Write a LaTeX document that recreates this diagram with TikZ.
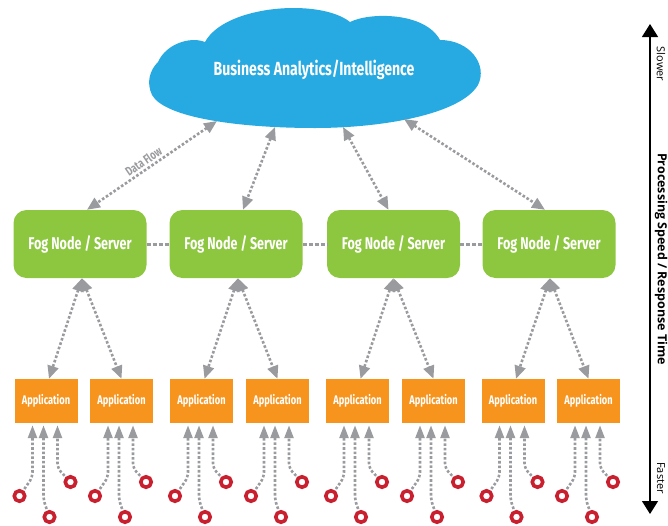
\documentclass[tikz,border=0pt]{standalone}
\usepackage{fontspec}
\setmainfont{Open Sans}
\newfontfamily\condfont[FakeStretch=0.74]{Fira Sans}
\usetikzlibrary{arrows.meta,calc}
\definecolor{cloudblue}{HTML}{27A9E1}
\definecolor{foggreen}{HTML}{8DC63F}
\definecolor{apporange}{HTML}{F7941D}
\definecolor{flowgrey}{HTML}{9A9B9F}
\definecolor{sensred}{HTML}{C8202F}
\begin{document}
\begin{tikzpicture}[x=1pt,y=-1pt,
  fogbox/.style={fill=foggreen, rounded corners=13pt, minimum width=133pt, minimum height=68pt, text=white, font=\condfont\bfseries\fontsize{17}{17}\selectfont, inner sep=0pt},
  appbox/.style={fill=apporange, minimum width=63pt, minimum height=44pt, text=white, font=\condfont\bfseries\fontsize{12.5}{12.5}\selectfont, inner sep=0pt},
  sensor/.style={circle, draw=sensred, line width=3.6pt, minimum size=10.5pt, inner sep=0pt},
  flow/.style={draw=flowgrey, line width=2.6pt, dash pattern=on 2.6pt off 2pt},
  biflow/.style={flow, {Triangle[length=13pt,width=11pt]}-{Triangle[length=13pt,width=11pt]}},
  sflow/.style={flow, rounded corners=5pt, shorten <=1.5pt, -{Triangle[length=13pt,width=9pt]}},
  fogdash/.style={draw=flowgrey, line width=3pt, dash pattern=on 4pt off 2pt},
  dflow/.style={sloped, above=1pt, pos=0.53, text=flowgrey, font=\condfont\bfseries\fontsize{12.5}{12.5}\selectfont, inner sep=1pt},
  axislabel/.style={rotate=-90, font=\fontsize{11}{11}\selectfont, inner sep=0pt}
]
\useasboundingbox (0,0) rectangle (668,525);
% cloud
\fill[cloudblue] (158,62)
  .. controls (166,44) and (190,36) .. (205,42)
  .. controls (225,5) and (320,-2) .. (350,22)
  .. controls (370,12) and (425,12) .. (440,40)
  .. controls (470,40) and (488,65) .. (478,85)
  .. controls (460,115) and (380,128) .. (315,128)
  .. controls (240,128) and (165,118) .. (152,95)
  .. controls (146,82) and (150,70) .. (158,62) -- cycle;
\node[text=white, font=\condfont\bfseries\fontsize{19}{19}\selectfont] (cloud) at (314,70) {Business Analytics/Intelligence};
\coordinate (cb1) at (217,121);
\coordinate (cb2) at (275,127);
\coordinate (cb3) at (343,127);
\coordinate (cb4) at (404,119);
% fog nodes
\node[fogbox] (fog1) at (80,244) {Fog Node / Server};
\node[fogbox] (fog2) at (236,244) {Fog Node / Server};
\node[fogbox] (fog3) at (393.5,244) {Fog Node / Server};
\node[fogbox] (fog4) at (549,244) {Fog Node / Server};
\draw[fogdash] (fog1) -- (fog2);
\draw[fogdash] (fog2) -- (fog3);
\draw[fogdash] (fog3) -- (fog4);
% cloud to fog
\draw[biflow] (cb1) -- node[dflow] (dfl) {Data Flow} ([xshift=7pt]fog1.north);
\draw[biflow] (cb2) -- ([xshift=7pt]fog2.north);
\draw[biflow] (cb3) -- ([xshift=-5pt]fog3.north);
\draw[biflow] (cb4) -- ([xshift=-4pt]fog4.north);
% applications and sensors
\foreach \i/\c in {1/46,2/121.5,3/201.5,4/277.5,5/357.5,6/433.5,7/513,8/588.5}{
  \node[appbox] (app\i) at (\c,401) {Application};
  \node[sensor] (sa\i) at (\c-26.5,496) {};
  \node[sensor] (sb\i) at (\c+3.5,517) {};
  \node[sensor] (sc\i) at (\c+24.5,482) {};
  \draw[sflow] (sa\i) -- ($(app\i.south)+(-13.5,54)$) -- ([shift={(-13.5,2)}]app\i.south);
  \draw[sflow] (sb\i) -- ($(app\i.south)+(-2.5,77)$) -- ([shift={(-2.5,2)}]app\i.south);
  \draw[sflow] (sc\i) -- ($(app\i.south)+(11.5,45)$) -- ([shift={(11.5,2)}]app\i.south);
}
% fog to apps
\draw[biflow] ([xshift=2pt]fog1.south) -- ([xshift=3pt]app1.north);
\draw[biflow] ([xshift=2pt]fog1.south) -- (app2.north);
\draw[biflow] ([xshift=2pt]fog2.south) -- ([xshift=3pt]app3.north);
\draw[biflow] ([xshift=2pt]fog2.south) -- (app4.north);
\draw[biflow] (fog3.south) -- ([xshift=3pt]app5.north);
\draw[biflow] (fog3.south) -- (app6.north);
\draw[biflow] ([xshift=1pt]fog4.south) -- ([xshift=3pt]app7.north);
\draw[biflow] ([xshift=1pt]fog4.south) -- (app8.north);
% axis
\coordinate (axtop) at (650,24);
\coordinate (axbot) at (650,514);
\draw[line width=1.3pt, {Triangle[length=13pt,width=16pt]}-{Triangle[length=13pt,width=16pt]}] (axtop) -- (axbot);
\node[axislabel] (slow) at (661,64) {Slower};
\node[axislabel, font=\bfseries\fontsize{12.5}{12.5}\selectfont] (speed) at (661,259) {Processing Speed / Response Time};
\node[axislabel] (fast) at (661,478) {Faster};
\end{tikzpicture}
\end{document}
